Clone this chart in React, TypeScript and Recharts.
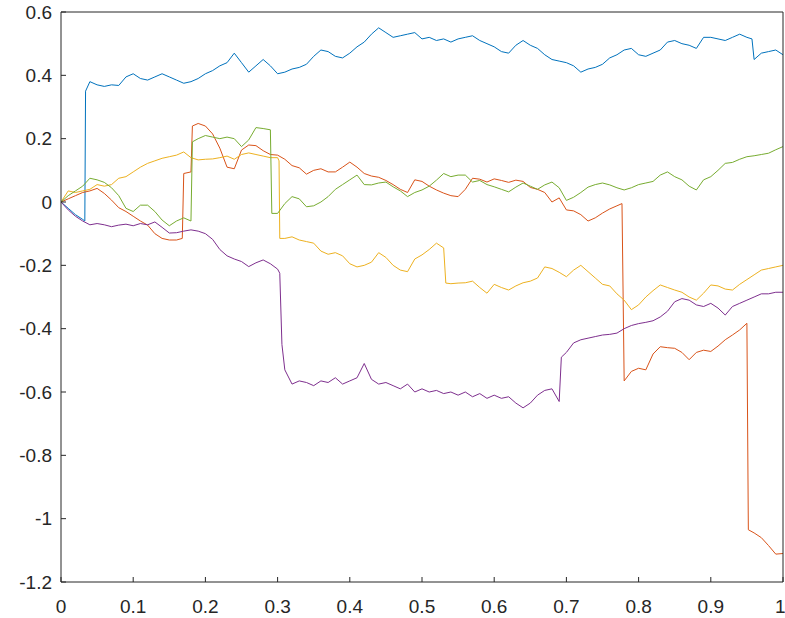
import { LineChart, Line, XAxis, YAxis } from "recharts";

// values: [t, value] pairs per series
const BLUE: [number, number][] = [
  [0, 0], [0.01, -0.02], [0.02, -0.04], [0.03, -0.055], [0.033, -0.06], [0.034, 0.35],
  [0.04, 0.38], [0.05, 0.37], [0.06, 0.365], [0.07, 0.37], [0.08, 0.368], [0.09, 0.395],
  [0.1, 0.405], [0.11, 0.39], [0.12, 0.385], [0.13, 0.395], [0.14, 0.405], [0.15, 0.395],
  [0.16, 0.385], [0.17, 0.375], [0.18, 0.38], [0.19, 0.39], [0.2, 0.405], [0.21, 0.415],
  [0.22, 0.43], [0.23, 0.44], [0.24, 0.47], [0.25, 0.44], [0.26, 0.41], [0.27, 0.43],
  [0.28, 0.45], [0.29, 0.43], [0.3, 0.405], [0.31, 0.41], [0.32, 0.42], [0.33, 0.425],
  [0.34, 0.435], [0.35, 0.46], [0.36, 0.48], [0.37, 0.475], [0.38, 0.46], [0.39, 0.455],
  [0.4, 0.47], [0.41, 0.49], [0.42, 0.505], [0.43, 0.53], [0.44, 0.55], [0.45, 0.535],
  [0.46, 0.52], [0.47, 0.525], [0.48, 0.53], [0.49, 0.535], [0.5, 0.515], [0.51, 0.52],
  [0.52, 0.51], [0.53, 0.515], [0.54, 0.505], [0.55, 0.515], [0.56, 0.52], [0.57, 0.525],
  [0.58, 0.51], [0.59, 0.5], [0.6, 0.49], [0.61, 0.475], [0.62, 0.47], [0.63, 0.495],
  [0.64, 0.51], [0.65, 0.495], [0.66, 0.485], [0.67, 0.465], [0.68, 0.45], [0.69, 0.445],
  [0.7, 0.44], [0.71, 0.43], [0.72, 0.41], [0.73, 0.42], [0.74, 0.425], [0.75, 0.435],
  [0.76, 0.455], [0.77, 0.465], [0.78, 0.48], [0.79, 0.485], [0.8, 0.465], [0.81, 0.46],
  [0.82, 0.47], [0.83, 0.48], [0.84, 0.505], [0.85, 0.51], [0.86, 0.5], [0.87, 0.495],
  [0.88, 0.485], [0.89, 0.52], [0.9, 0.52], [0.91, 0.515], [0.92, 0.51], [0.93, 0.52],
  [0.94, 0.53], [0.95, 0.52], [0.957, 0.515], [0.96, 0.45], [0.97, 0.47], [0.98, 0.475],
  [0.99, 0.48], [1, 0.465],
];

const RED: [number, number][] = [
  [0, 0], [0.01, 0.01], [0.02, 0.02], [0.03, 0.03], [0.04, 0.035], [0.05, 0.043],
  [0.06, 0.027], [0.07, 0.006], [0.08, -0.018], [0.09, -0.03], [0.1, -0.045], [0.11, -0.06],
  [0.12, -0.073], [0.13, -0.1], [0.14, -0.115], [0.15, -0.12], [0.16, -0.12], [0.168, -0.115],
  [0.17, 0.09], [0.18, 0.095], [0.182, 0.24], [0.19, 0.248], [0.2, 0.24], [0.21, 0.215],
  [0.22, 0.17], [0.23, 0.11], [0.24, 0.105], [0.25, 0.164], [0.26, 0.18], [0.27, 0.178],
  [0.28, 0.162], [0.29, 0.15], [0.3, 0.148], [0.31, 0.135], [0.32, 0.115], [0.33, 0.108],
  [0.34, 0.088], [0.35, 0.1], [0.36, 0.105], [0.37, 0.095], [0.38, 0.095], [0.39, 0.11],
  [0.4, 0.126], [0.41, 0.11], [0.42, 0.09], [0.43, 0.082], [0.44, 0.078], [0.45, 0.068],
  [0.46, 0.055], [0.47, 0.04], [0.48, 0.03], [0.49, 0.07], [0.5, 0.065], [0.51, 0.05],
  [0.52, 0.038], [0.53, 0.028], [0.54, 0.02], [0.55, 0.017], [0.56, 0.04], [0.57, 0.075],
  [0.58, 0.072], [0.59, 0.063], [0.6, 0.073], [0.61, 0.068], [0.62, 0.062], [0.63, 0.069],
  [0.64, 0.065], [0.65, 0.046], [0.66, 0.04], [0.67, 0.03], [0.68, 0.0], [0.69, 0.013],
  [0.7, -0.025], [0.71, -0.028], [0.72, -0.04], [0.73, -0.06], [0.74, -0.05], [0.75, -0.035],
  [0.76, -0.022], [0.77, -0.012], [0.777, -0.005], [0.78, -0.565], [0.79, -0.535], [0.8, -0.525],
  [0.81, -0.53], [0.82, -0.48], [0.83, -0.457], [0.84, -0.46], [0.85, -0.462], [0.86, -0.475],
  [0.87, -0.498], [0.88, -0.475], [0.89, -0.468], [0.9, -0.472], [0.91, -0.455], [0.92, -0.435],
  [0.93, -0.42], [0.94, -0.404], [0.95, -0.383], [0.952, -1.035], [0.96, -1.045], [0.97, -1.06],
  [0.98, -1.085], [0.99, -1.112], [1, -1.11],
];

const YELLOW: [number, number][] = [
  [0, 0], [0.01, 0.035], [0.02, 0.03], [0.03, 0.035], [0.04, 0.04], [0.05, 0.055],
  [0.06, 0.05], [0.07, 0.055], [0.08, 0.075], [0.09, 0.08], [0.1, 0.095], [0.11, 0.11],
  [0.12, 0.122], [0.13, 0.13], [0.14, 0.138], [0.15, 0.143], [0.16, 0.148], [0.17, 0.158],
  [0.18, 0.14], [0.19, 0.133], [0.2, 0.135], [0.21, 0.136], [0.22, 0.14], [0.23, 0.145],
  [0.24, 0.135], [0.25, 0.15], [0.26, 0.155], [0.27, 0.15], [0.28, 0.145], [0.29, 0.14],
  [0.3, 0.14], [0.302, 0.13], [0.303, -0.115], [0.31, -0.115], [0.32, -0.11], [0.33, -0.12],
  [0.34, -0.125], [0.35, -0.13], [0.36, -0.155], [0.37, -0.165], [0.38, -0.16], [0.39, -0.17],
  [0.4, -0.195], [0.41, -0.205], [0.42, -0.2], [0.43, -0.19], [0.44, -0.16], [0.45, -0.175],
  [0.46, -0.2], [0.47, -0.215], [0.48, -0.22], [0.49, -0.18], [0.5, -0.167], [0.51, -0.15],
  [0.52, -0.13], [0.53, -0.145], [0.533, -0.256], [0.54, -0.258], [0.55, -0.256], [0.56, -0.255],
  [0.57, -0.25], [0.58, -0.27], [0.59, -0.288], [0.6, -0.26], [0.61, -0.27], [0.62, -0.278],
  [0.63, -0.265], [0.64, -0.255], [0.65, -0.25], [0.66, -0.24], [0.67, -0.205], [0.68, -0.21],
  [0.69, -0.222], [0.7, -0.236], [0.71, -0.215], [0.72, -0.2], [0.73, -0.22], [0.74, -0.24],
  [0.75, -0.26], [0.76, -0.265], [0.77, -0.29], [0.78, -0.31], [0.79, -0.34], [0.8, -0.325],
  [0.81, -0.3], [0.82, -0.28], [0.83, -0.262], [0.84, -0.27], [0.85, -0.278], [0.86, -0.285],
  [0.87, -0.3], [0.88, -0.31], [0.89, -0.288], [0.9, -0.262], [0.91, -0.265], [0.92, -0.275],
  [0.93, -0.278], [0.94, -0.26], [0.95, -0.245], [0.96, -0.23], [0.97, -0.215], [0.98, -0.21],
  [0.99, -0.205], [1, -0.2],
];

const PURPLE: [number, number][] = [
  [0, 0], [0.01, -0.025], [0.02, -0.045], [0.03, -0.06], [0.04, -0.072], [0.05, -0.068],
  [0.06, -0.072], [0.07, -0.078], [0.08, -0.073], [0.09, -0.07], [0.1, -0.075], [0.11, -0.068],
  [0.12, -0.072], [0.13, -0.063], [0.14, -0.08], [0.15, -0.098], [0.16, -0.097], [0.17, -0.092],
  [0.18, -0.088], [0.19, -0.092], [0.2, -0.1], [0.21, -0.118], [0.22, -0.15], [0.23, -0.17],
  [0.24, -0.18], [0.25, -0.188], [0.26, -0.204], [0.27, -0.192], [0.28, -0.183], [0.29, -0.195],
  [0.3, -0.212], [0.303, -0.225], [0.306, -0.45], [0.31, -0.53], [0.32, -0.575], [0.33, -0.565],
  [0.34, -0.57], [0.35, -0.58], [0.36, -0.565], [0.37, -0.57], [0.38, -0.555], [0.39, -0.575],
  [0.4, -0.565], [0.41, -0.555], [0.42, -0.51], [0.43, -0.56], [0.44, -0.575], [0.45, -0.57],
  [0.46, -0.58], [0.47, -0.59], [0.48, -0.575], [0.49, -0.6], [0.5, -0.59], [0.51, -0.6],
  [0.52, -0.595], [0.53, -0.605], [0.54, -0.6], [0.55, -0.61], [0.56, -0.6], [0.57, -0.615],
  [0.58, -0.605], [0.59, -0.62], [0.6, -0.61], [0.61, -0.62], [0.62, -0.615], [0.63, -0.635],
  [0.64, -0.65], [0.65, -0.635], [0.66, -0.61], [0.67, -0.595], [0.68, -0.59], [0.69, -0.63],
  [0.693, -0.49], [0.7, -0.475], [0.71, -0.445], [0.72, -0.435], [0.73, -0.43], [0.74, -0.425],
  [0.75, -0.42], [0.76, -0.418], [0.77, -0.414], [0.78, -0.4], [0.79, -0.39], [0.8, -0.384],
  [0.81, -0.38], [0.82, -0.375], [0.83, -0.363], [0.84, -0.345], [0.85, -0.315], [0.86, -0.305],
  [0.87, -0.31], [0.88, -0.325], [0.89, -0.33], [0.9, -0.32], [0.91, -0.335], [0.92, -0.357],
  [0.93, -0.33], [0.94, -0.32], [0.95, -0.31], [0.96, -0.3], [0.97, -0.29], [0.98, -0.29],
  [0.99, -0.285], [1, -0.285],
];

const GREEN: [number, number][] = [
  [0, 0], [0.01, 0.02], [0.02, 0.035], [0.03, 0.05], [0.04, 0.075], [0.05, 0.07],
  [0.06, 0.062], [0.07, 0.045], [0.08, 0.02], [0.09, -0.02], [0.1, -0.03], [0.11, -0.01],
  [0.12, -0.01], [0.13, -0.03], [0.14, -0.057], [0.15, -0.075], [0.16, -0.06], [0.17, -0.05],
  [0.18, -0.06], [0.182, 0.19], [0.19, 0.2], [0.2, 0.21], [0.21, 0.205], [0.22, 0.2],
  [0.23, 0.205], [0.24, 0.2], [0.25, 0.175], [0.26, 0.196], [0.27, 0.235], [0.28, 0.232],
  [0.29, 0.228], [0.292, -0.036], [0.3, -0.036], [0.31, -0.005], [0.32, 0.017], [0.33, 0.01],
  [0.34, -0.015], [0.35, -0.012], [0.36, 0.0], [0.37, 0.017], [0.38, 0.04], [0.39, 0.055],
  [0.4, 0.07], [0.41, 0.085], [0.42, 0.055], [0.43, 0.054], [0.44, 0.06], [0.45, 0.063],
  [0.46, 0.048], [0.47, 0.035], [0.48, 0.017], [0.49, 0.03], [0.5, 0.038], [0.51, 0.05],
  [0.52, 0.069], [0.53, 0.09], [0.54, 0.08], [0.55, 0.085], [0.56, 0.085], [0.57, 0.063],
  [0.58, 0.068], [0.59, 0.055], [0.6, 0.048], [0.61, 0.04], [0.62, 0.032], [0.63, 0.047],
  [0.64, 0.06], [0.65, 0.05], [0.66, 0.04], [0.67, 0.054], [0.68, 0.063], [0.69, 0.045],
  [0.7, 0.005], [0.71, 0.015], [0.72, 0.03], [0.73, 0.047], [0.74, 0.055], [0.75, 0.06],
  [0.76, 0.054], [0.77, 0.045], [0.78, 0.038], [0.79, 0.045], [0.8, 0.055], [0.81, 0.06],
  [0.82, 0.065], [0.83, 0.085], [0.84, 0.095], [0.85, 0.08], [0.86, 0.07], [0.87, 0.05],
  [0.88, 0.038], [0.89, 0.07], [0.9, 0.08], [0.91, 0.1], [0.92, 0.122], [0.93, 0.125],
  [0.94, 0.135], [0.95, 0.143], [0.96, 0.146], [0.97, 0.15], [0.98, 0.154], [0.99, 0.165],
  [1, 0.175],
];

const X_TICKS = [0, 0.1, 0.2, 0.3, 0.4, 0.5, 0.6, 0.7, 0.8, 0.9, 1];
const Y_TICKS = [-1.2, -1, -0.8, -0.6, -0.4, -0.2, 0, 0.2, 0.4, 0.6];

const SERIES = [
  { name: "s1", points: BLUE, color: "#0072BD" },
  { name: "s2", points: RED, color: "#D95319" },
  { name: "s3", points: YELLOW, color: "#EDB120" },
  { name: "s4", points: PURPLE, color: "#7E2F8E" },
  { name: "s5", points: GREEN, color: "#77AC30" },
];

const AXIS = "#262626";
const FONT = "'Liberation Sans', Arial, sans-serif";
const fmt = (v: number) => String(+v.toFixed(1));

export default function App() {
  return (
    <div style={{ position: "absolute", left: 0, top: 0, width: 785, height: 618, background: "#fff" }}>
      <LineChart width={785} height={618} margin={{ top: 11, right: 1, bottom: 0, left: 0 }}>
        <XAxis
          type="number" dataKey="t" domain={[0, 1]} ticks={X_TICKS} allowDataOverflow
          tickFormatter={fmt} tickSize={-5} tickMargin={23} height={36}
          stroke={AXIS} tick={{ fill: AXIS, fontSize: 19, fontFamily: FONT }}
        />
        <XAxis
          xAxisId="top" orientation="top" type="number" domain={[0, 1]} ticks={X_TICKS}
          allowDataOverflow height={1} tickSize={-5} tick={false} stroke={AXIS}
        />
        <YAxis
          type="number" domain={[-1.2, 0.6]} ticks={Y_TICKS} allowDataOverflow
          tickFormatter={fmt} tickSize={-5} tickMargin={14} width={61}
          stroke={AXIS} tick={{ fill: AXIS, fontSize: 19, fontFamily: FONT }}
        />
        <YAxis
          yAxisId="right" orientation="right" type="number" domain={[-1.2, 0.6]} ticks={Y_TICKS}
          allowDataOverflow width={1} tickSize={-5} tick={false} stroke={AXIS}
        />
        {SERIES.map((s) => (
          <Line
            key={s.name}
            data={s.points.map(([t, v]) => ({ t, v }))}
            dataKey="v"
            type="linear"
            stroke={s.color}
            strokeWidth={1}
            dot={false}
            activeDot={false}
            isAnimationActive={false}
          />
        ))}
      </LineChart>
    </div>
  );
}
